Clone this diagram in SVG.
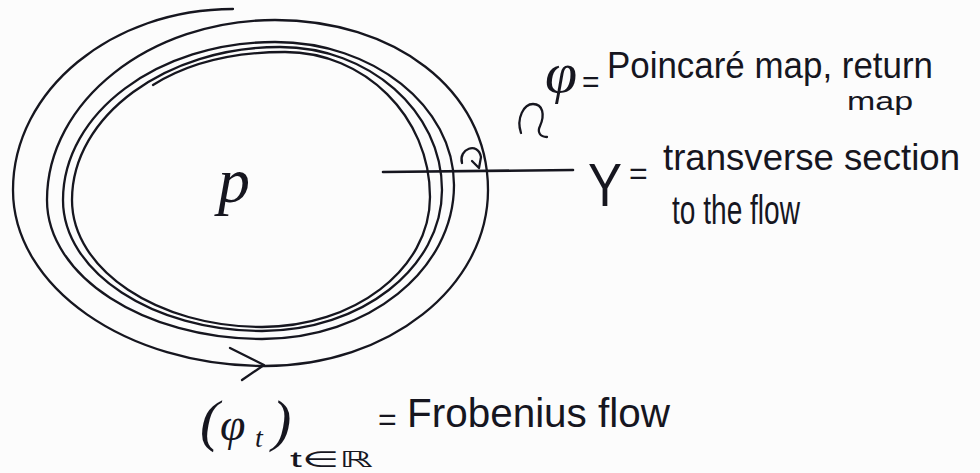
<svg xmlns="http://www.w3.org/2000/svg" width="980" height="473" viewBox="0 0 980 473">
<style>
.ink{fill:none;stroke:#16161f;stroke-width:2.3;stroke-linecap:round;stroke-linejoin:round}
.t{font-family:"Liberation Serif","DejaVu Serif",serif;font-style:italic;fill:#16161f}
.s{font-family:"Liberation Sans","DejaVu Sans",sans-serif;fill:#16161f}
</style>
<rect width="980" height="473" fill="#fcfcfc"/>
<g id="connectors">
<path id="flow-spiral" class="ink" d="M233,9 C112,9 13,90 13,190 C13,287 126,366 265,366 C388,366 488,287 488,190 C488,88 392,20 275,20 C150,20 47,101 47,200 C47,276 144,339 262,339 C368,339 454,270 454,185 C454,106 373,42 275,42 C158,42 63,113 63,200 C63,272 153,331 262,331 C361,331 442,268 442,190 C442,111 369,47 280,47 C166,47 72,116 72,200 C72,270 158,327 262,327 C353,327 430,270 430,197 C430,116 364,52 285,52 C230,52 185,65 153,85"/>
<path id="flow-arrow" class="ink" d="M230,348 L264,365 L242,380"/>
<path id="section-line" class="ink" style="stroke-width:2.6" d="M383,172 L573,170"/>
<path id="return-curl" class="ink" d="M462,163 C458,149 478,141 481,157 L479,168 L472,161"/>
<path id="return-curl-2" class="ink" d="M521,133 C516,118 524,104 533,104 C543,104 545,115 540,126 C537,132 540,137 547,137"/>
</g>
<g id="node-p">
<text class="t" x="218" y="202" font-size="64">p</text>
</g>
<g id="node-poincare">
<text class="t" x="545" y="92" font-size="58">φ</text>
<text class="s" x="582" y="92" font-size="30">=</text>
<text class="s" x="607" y="78" font-size="36" textLength="326" lengthAdjust="spacingAndGlyphs">Poincaré map, return</text>
<text class="s" x="847" y="110" font-size="26" textLength="66" lengthAdjust="spacingAndGlyphs">map</text>
</g>
<g id="node-section">
<text class="s" x="588" y="206" font-size="62" textLength="34" lengthAdjust="spacingAndGlyphs">Y</text>
<text class="s" x="629" y="184" font-size="32">=</text>
<text class="s" x="663" y="170" font-size="36" textLength="297" lengthAdjust="spacingAndGlyphs">transverse section</text>
<text class="s" x="672" y="224" font-size="40" textLength="128" lengthAdjust="spacingAndGlyphs">to the flow</text>
</g>
<g id="node-flow">
<text class="t" x="200" y="440" font-size="58">(</text>
<text class="t" x="220" y="440" font-size="46">φ</text>
<text class="t" x="255" y="447" font-size="28">t</text>
<text class="t" x="272" y="440" font-size="58">)</text>
<text class="s" x="290" y="467" font-size="22" textLength="83" lengthAdjust="spacingAndGlyphs">t∈ℝ</text>
<text class="s" x="378" y="430" font-size="32">=</text>
<text class="s" x="407" y="427" font-size="40" textLength="263" lengthAdjust="spacingAndGlyphs">Frobenius flow</text>
</g>
</svg>
